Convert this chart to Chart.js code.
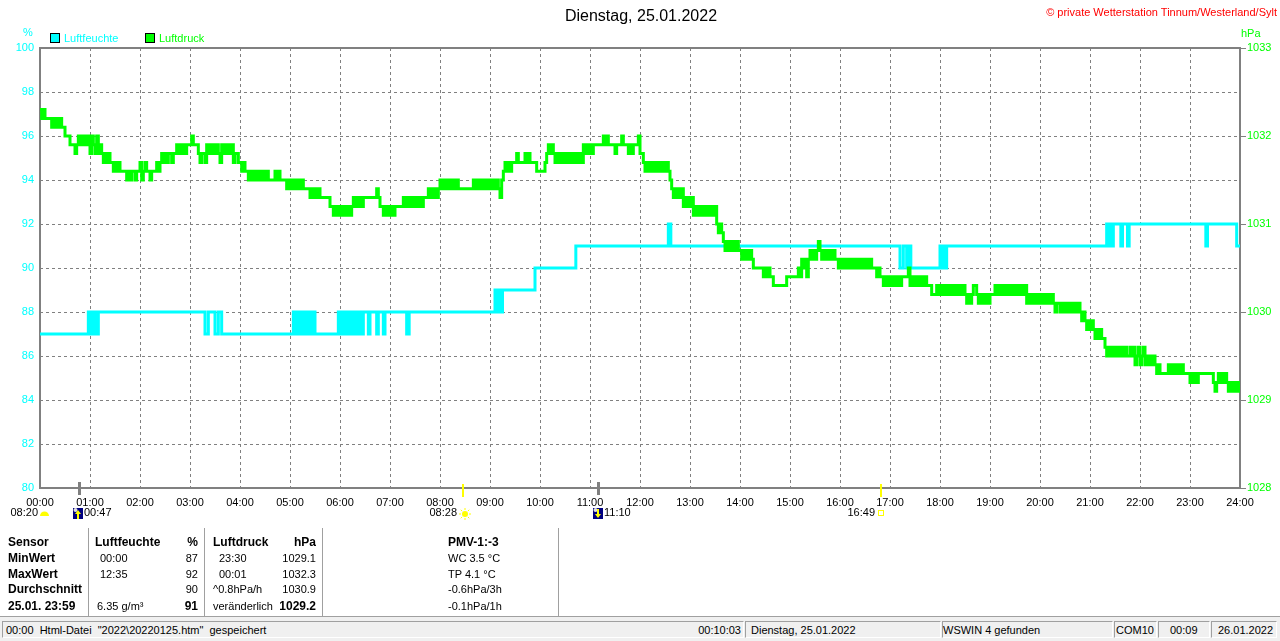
<!DOCTYPE html>
<html><head><meta charset="utf-8">
<script src="https://cdn.jsdelivr.net/npm/chart.js@4.4.1/dist/chart.umd.min.js"></script>
<style>
html,body{margin:0;padding:0;background:#fff;}
body{width:1280px;height:641px;overflow:hidden;position:relative;font-family:"Liberation Sans",Arial,sans-serif;font-size:11px;color:#000;}
#cv{position:absolute;left:0;top:0;}
.t{position:absolute;white-space:nowrap;line-height:14px;height:14px;}
.b{font-weight:bold;font-size:12px;}
.sep{position:absolute;top:528px;height:88px;width:1px;background:#a0a0a0;border-right:1px solid #fff;}
#status{position:absolute;left:0;top:616px;width:1280px;height:25px;background:#f0f0f0;border-top:1px solid #a0a0a0;}
.p{position:absolute;top:4px;height:17px;border-top:1px solid #a0a0a0;border-left:1px solid #a0a0a0;border-bottom:1px solid #fff;border-right:1px solid #fff;box-sizing:border-box;}
.st{position:absolute;top:7px;white-space:nowrap;line-height:13px;font-size:11px;}
.box{position:absolute;width:8px;height:8px;border:1px solid #000;}
</style>
</head><body>
<canvas id="cv" width="1280" height="530"></canvas>

<div class="t" style="left:0;width:1282px;text-align:center;top:7px;font-size:16px;line-height:18px;height:18px;">Dienstag, 25.01.2022</div>
<div class="t" style="right:3px;top:5px;color:#ff0000;">© private Wetterstation Tinnum/Westerland/Sylt</div>
<div class="t" style="left:23px;top:25px;color:#00ffff;">%</div>
<div class="t" style="left:1241px;top:26px;color:#00ff00;">hPa</div>
<div class="box" style="left:50px;top:33px;background:#00ffff;"></div>
<div class="t" style="left:64px;top:31px;color:#00ffff;">Luftfeuchte</div>
<div class="box" style="left:145px;top:33px;background:#00ff00;"></div>
<div class="t" style="left:159px;top:31px;color:#00ff00;">Luftdruck</div>

<!-- table -->
<div class="sep" style="left:88px;"></div>
<div class="sep" style="left:204px;"></div>
<div class="sep" style="left:322px;"></div>
<div class="sep" style="left:558px;"></div>

<div class="t b" style="left:8px;top:535px;">Sensor</div>
<div class="t b" style="left:8px;top:551px;">MinWert</div>
<div class="t b" style="left:8px;top:567px;">MaxWert</div>
<div class="t b" style="left:8px;top:582px;">Durchschnitt</div>
<div class="t b" style="left:8px;top:599px;">25.01. 23:59</div>

<div class="t b" style="left:95px;top:535px;">Luftfeuchte</div>
<div class="t b" style="right:1082px;top:535px;">%</div>
<div class="t" style="left:100px;top:551px;">00:00</div>
<div class="t" style="right:1082px;top:551px;">87</div>
<div class="t" style="left:100px;top:567px;">12:35</div>
<div class="t" style="right:1082px;top:567px;">92</div>
<div class="t" style="right:1082px;top:582px;">90</div>
<div class="t" style="left:97px;top:599px;">6.35 g/m³</div>
<div class="t b" style="right:1082px;top:599px;">91</div>

<div class="t b" style="left:213px;top:535px;">Luftdruck</div>
<div class="t b" style="right:964px;top:535px;">hPa</div>
<div class="t" style="left:219px;top:551px;">23:30</div>
<div class="t" style="right:964px;top:551px;">1029.1</div>
<div class="t" style="left:219px;top:567px;">00:01</div>
<div class="t" style="right:964px;top:567px;">1032.3</div>
<div class="t" style="left:213px;top:582px;">^0.8hPa/h</div>
<div class="t" style="right:964px;top:582px;">1030.9</div>
<div class="t" style="left:213px;top:599px;">veränderlich</div>
<div class="t b" style="right:964px;top:599px;">1029.2</div>

<div class="t b" style="left:448px;top:535px;">PMV-1:-3</div>
<div class="t" style="left:448px;top:551px;">WC 3.5 °C</div>
<div class="t" style="left:448px;top:567px;">TP 4.1 °C</div>
<div class="t" style="left:448px;top:582px;">-0.6hPa/3h</div>
<div class="t" style="left:448px;top:599px;">-0.1hPa/1h</div>

<div id="status">
  <div class="p" style="left:2px;width:742px;"></div>
  <div class="p" style="left:745px;width:196px;"></div>
  <div class="p" style="left:942px;width:171px;"></div>
  <div class="p" style="left:1114px;width:43px;"></div>
  <div class="p" style="left:1158px;width:52px;"></div>
  <div class="p" style="left:1211px;width:66px;"></div>
  <div class="st" style="left:6px;">00:00&nbsp; Html-Datei&nbsp; "2022\20220125.htm"&nbsp; gespeichert</div>
  <div class="st" style="right:539px;">00:10:03</div>
  <div class="st" style="left:751px;">Dienstag, 25.01.2022</div>
  <div class="st" style="left:943px;">WSWIN 4 gefunden</div>
  <div class="st" style="left:1116px;">COM10</div>
  <div class="st" style="left:1170px;">00:09</div>
  <div class="st" style="left:1218px;">26.01.2022</div>
</div>

<script>
// ---- data ----
const hourLabels = ['00:00','01:00','02:00','03:00','04:00','05:00','06:00','07:00','08:00','09:00','10:00','11:00','12:00',
  '13:00','14:00','15:00','16:00','17:00','18:00','19:00','20:00','21:00','22:00','23:00','24:00'];

// Luftdruck (hPa), one reading every 2 minutes from 00:00 to 24:00 (30 per hour row)
const pressureValues = [
1032.3,1032.2,1032.3,1032.2,1032.2,1032.2,1032.2,1032.1,1032.2,1032.1,1032.2,1032.1,1032.2,1032.1,1032.1,1032.0,1032.0,1032.0,1031.9,1031.9,1031.9,1031.8,1031.9,1032.0,1031.9,1032.0,1031.9,1032.0,1031.9,1032.0,
1031.8,1032.0,1031.9,1031.8,1032.0,1031.8,1031.9,1031.8,1031.7,1031.8,1031.7,1031.8,1031.7,1031.7,1031.6,1031.7,1031.6,1031.7,1031.6,1031.6,1031.6,1031.6,1031.5,1031.6,1031.5,1031.6,1031.6,1031.5,1031.6,1031.6,
1031.7,1031.5,1031.6,1031.7,1031.6,1031.6,1031.5,1031.6,1031.6,1031.6,1031.7,1031.6,1031.7,1031.8,1031.7,1031.8,1031.7,1031.8,1031.8,1031.7,1031.8,1031.8,1031.9,1031.8,1031.9,1031.8,1031.9,1031.8,1031.9,1031.9,
1031.9,1032.0,1031.9,1031.9,1031.9,1031.8,1031.7,1031.8,1031.8,1031.7,1031.9,1031.8,1031.9,1031.8,1031.9,1031.8,1031.9,1031.8,1031.7,1031.9,1031.8,1031.9,1031.8,1031.9,1031.8,1031.9,1031.7,1031.8,1031.8,1031.7,
1031.7,1031.6,1031.7,1031.6,1031.6,1031.5,1031.6,1031.5,1031.6,1031.5,1031.6,1031.5,1031.6,1031.5,1031.6,1031.5,1031.6,1031.5,1031.5,1031.5,1031.5,1031.6,1031.5,1031.6,1031.5,1031.5,1031.5,1031.5,1031.4,1031.5,
1031.4,1031.5,1031.4,1031.5,1031.4,1031.5,1031.4,1031.5,1031.4,1031.4,1031.4,1031.4,1031.3,1031.4,1031.3,1031.4,1031.3,1031.4,1031.3,1031.3,1031.3,1031.3,1031.3,1031.3,1031.2,1031.2,1031.1,1031.2,1031.1,1031.2,
1031.1,1031.2,1031.1,1031.2,1031.1,1031.2,1031.1,1031.2,1031.3,1031.2,1031.3,1031.2,1031.3,1031.2,1031.3,1031.3,1031.3,1031.3,1031.3,1031.3,1031.3,1031.3,1031.4,1031.3,1031.2,1031.2,1031.1,1031.2,1031.1,1031.2,
1031.1,1031.2,1031.1,1031.2,1031.2,1031.2,1031.2,1031.2,1031.3,1031.2,1031.3,1031.2,1031.3,1031.2,1031.3,1031.2,1031.3,1031.2,1031.3,1031.2,1031.3,1031.3,1031.3,1031.4,1031.3,1031.4,1031.3,1031.4,1031.3,1031.4,
1031.5,1031.4,1031.5,1031.4,1031.5,1031.4,1031.5,1031.4,1031.5,1031.4,1031.5,1031.4,1031.4,1031.4,1031.4,1031.4,1031.4,1031.4,1031.4,1031.4,1031.5,1031.4,1031.5,1031.4,1031.5,1031.4,1031.5,1031.4,1031.5,1031.4,
1031.5,1031.4,1031.5,1031.4,1031.5,1031.4,1031.3,1031.5,1031.6,1031.7,1031.6,1031.7,1031.6,1031.7,1031.7,1031.7,1031.8,1031.7,1031.7,1031.7,1031.7,1031.8,1031.7,1031.8,1031.7,1031.7,1031.7,1031.7,1031.6,1031.6,
1031.6,1031.6,1031.6,1031.7,1031.8,1031.9,1031.8,1031.9,1031.8,1031.7,1031.8,1031.7,1031.8,1031.7,1031.8,1031.7,1031.8,1031.7,1031.8,1031.7,1031.8,1031.7,1031.8,1031.7,1031.8,1031.7,1031.9,1031.8,1031.9,1031.8,
1031.9,1031.8,1031.9,1031.9,1031.9,1031.9,1031.9,1031.9,1032.0,1031.9,1032.0,1031.9,1031.9,1031.9,1031.9,1031.8,1031.9,1031.9,1031.9,1032.0,1031.9,1031.9,1031.9,1031.8,1031.9,1031.8,1031.9,1031.9,1031.9,1032.0,
1031.8,1031.8,1031.7,1031.6,1031.7,1031.6,1031.7,1031.6,1031.7,1031.6,1031.7,1031.6,1031.7,1031.6,1031.7,1031.6,1031.7,1031.6,1031.5,1031.4,1031.3,1031.4,1031.3,1031.4,1031.3,1031.4,1031.2,1031.3,1031.2,1031.3,
1031.2,1031.3,1031.1,1031.2,1031.1,1031.2,1031.1,1031.2,1031.1,1031.2,1031.1,1031.2,1031.1,1031.2,1031.1,1031.2,1031.0,1030.9,1031.0,1030.9,1030.8,1030.7,1030.8,1030.7,1030.8,1030.7,1030.8,1030.7,1030.8,1030.7,
1030.7,1030.6,1030.7,1030.6,1030.7,1030.6,1030.7,1030.6,1030.5,1030.5,1030.5,1030.5,1030.5,1030.5,1030.4,1030.5,1030.4,1030.5,1030.4,1030.4,1030.3,1030.3,1030.3,1030.3,1030.3,1030.3,1030.3,1030.3,1030.4,1030.4,
1030.4,1030.4,1030.4,1030.4,1030.4,1030.5,1030.4,1030.6,1030.5,1030.6,1030.4,1030.6,1030.7,1030.6,1030.7,1030.6,1030.7,1030.8,1030.7,1030.6,1030.7,1030.6,1030.7,1030.6,1030.7,1030.6,1030.7,1030.6,1030.6,1030.5,
1030.6,1030.5,1030.6,1030.5,1030.6,1030.5,1030.6,1030.5,1030.6,1030.5,1030.6,1030.5,1030.6,1030.5,1030.6,1030.5,1030.6,1030.5,1030.6,1030.5,1030.5,1030.5,1030.4,1030.5,1030.4,1030.4,1030.3,1030.4,1030.3,1030.4,
1030.3,1030.4,1030.3,1030.4,1030.3,1030.4,1030.3,1030.4,1030.4,1030.4,1030.4,1030.5,1030.3,1030.4,1030.3,1030.4,1030.3,1030.4,1030.3,1030.4,1030.3,1030.4,1030.3,1030.3,1030.3,1030.2,1030.2,1030.2,1030.3,1030.2,
1030.3,1030.2,1030.3,1030.2,1030.3,1030.2,1030.3,1030.2,1030.3,1030.2,1030.3,1030.2,1030.3,1030.2,1030.3,1030.2,1030.1,1030.2,1030.1,1030.2,1030.3,1030.3,1030.2,1030.1,1030.2,1030.1,1030.2,1030.1,1030.2,1030.1,
1030.2,1030.2,1030.2,1030.3,1030.2,1030.3,1030.2,1030.3,1030.2,1030.3,1030.2,1030.3,1030.2,1030.3,1030.2,1030.3,1030.2,1030.3,1030.2,1030.3,1030.2,1030.3,1030.1,1030.2,1030.1,1030.2,1030.1,1030.2,1030.1,1030.2,
1030.1,1030.2,1030.1,1030.2,1030.1,1030.2,1030.1,1030.2,1030.1,1030.0,1030.1,1030.1,1030.0,1030.1,1030.0,1030.1,1030.0,1030.1,1030.0,1030.1,1030.0,1030.1,1030.0,1030.1,1030.0,1029.9,1030.0,1029.9,1029.8,1029.9,
1029.8,1029.9,1029.8,1029.7,1029.8,1029.7,1029.8,1029.7,1029.7,1029.6,1029.5,1029.6,1029.5,1029.6,1029.5,1029.6,1029.5,1029.6,1029.5,1029.6,1029.5,1029.6,1029.5,1029.5,1029.6,1029.5,1029.6,1029.4,1029.5,1029.6,
1029.4,1029.5,1029.6,1029.4,1029.5,1029.4,1029.5,1029.4,1029.5,1029.4,1029.3,1029.4,1029.3,1029.3,1029.3,1029.3,1029.3,1029.4,1029.3,1029.4,1029.3,1029.4,1029.3,1029.4,1029.3,1029.4,1029.3,1029.3,1029.3,1029.3,
1029.2,1029.3,1029.2,1029.3,1029.2,1029.3,1029.3,1029.3,1029.3,1029.3,1029.3,1029.3,1029.3,1029.3,1029.2,1029.1,1029.2,1029.3,1029.2,1029.3,1029.2,1029.3,1029.2,1029.1,1029.2,1029.1,1029.2,1029.1,1029.2,1029.1,
1029.2
];
const pressureStepMinutes = 2;

// Luftfeuchte (%): minute of day at which a value starts, and the value
const humidityTimes = [0,58,60,62,64,66,68,70, 198,202,210,214,218,
  304,307,309,312,315,318,321,324,327,330,
  358,361,364,367,370,373,376,379,382,385,388,394,396,404,406,412,414,440,443,
  546,548,551,553,555,594,643,754,757,
  1032,1036,1040,1043,1045,1080,1082,1084,1086,1088,
  1280,1282,1284,1286,1288,1297,1299,1305,1307,1399,1401,1436,1440];
const humidityValues = [87,88,87,88,87,88,87,88, 87,88,87,88,87,
  88,87,88,87,88,87,88,87,88,87,
  88,87,88,87,88,87,88,87,88,87,88,87,88,87,88,87,88,87,88,
  89,88,89,88,89,90,91,92,91,
  90,91,90,91,90,91,90,91,90,91,
  92,91,92,91,92,91,92,91,92,91,92,91,91];

// Sun / moon events
const astroTimes = ['00:47','08:28','11:10','16:49'];
const astroKinds = ['moonrise','sunrise','moonset','sunset'];
const dayLength = '08:20';

// ---- helpers ----
const toMin = s => { const [h,m] = s.split(':').map(Number); return h*60+m; };
const pressureData = pressureValues.map((v,i)=>({x:i*pressureStepMinutes, y:v}));
const humidityData = humidityTimes.map((t,i)=>({x:t, y:humidityValues[i]}));

const FONT = {family:'"Liberation Sans", Arial, sans-serif', size:11};
const GRID = '#808080';

const framePlugin = {
  id:'frame',
  beforeDatasetsDraw(chart){
    const {ctx, chartArea:a} = chart;
    ctx.save();
    ctx.strokeStyle = GRID; ctx.lineWidth = 2;
    ctx.strokeRect(a.left, a.top, a.right-a.left, a.bottom-a.top);
    ctx.restore();
  }
};

const astroPlugin = {
  id:'astro',
  afterDraw(chart){
    const {ctx, scales:{x}} = chart;
    const cy = 513;
    ctx.save();
    ctx.font = '11px "Liberation Sans", Arial, sans-serif';
    ctx.textBaseline = 'middle';
    ctx.fillStyle = '#000'; ctx.textAlign = 'right';
    ctx.fillText(dayLength, 38, cy);
    ctx.fillStyle = '#ffff00';
    ctx.beginPath(); ctx.arc(44.5, cy+3, 4.5, Math.PI, 2*Math.PI); ctx.closePath(); ctx.fill();

    astroTimes.forEach((t,i)=>{
      const px = Math.round(x.getPixelForValue(toMin(t)));
      const kind = astroKinds[i];
      if (kind.startsWith('sun')) {
        ctx.fillStyle = '#ffff00';
        ctx.fillRect(px-1, 484, 2, 13);
        ctx.fillStyle = '#000'; ctx.textAlign = 'right';
        ctx.fillText(t, px-6, cy);
        if (kind === 'sunrise') {
          ctx.fillStyle = '#ffff00'; ctx.strokeStyle = '#ffff00'; ctx.lineWidth = 1;
          ctx.beginPath(); ctx.arc(px+2, cy+1, 3, 0, 2*Math.PI); ctx.fill();
          for (let k=0;k<8;k++){
            const an = k*Math.PI/4;
            ctx.beginPath();
            ctx.moveTo(px+2+Math.cos(an)*4, cy+1+Math.sin(an)*4);
            ctx.lineTo(px+2+Math.cos(an)*6, cy+1+Math.sin(an)*6);
            ctx.stroke();
          }
        } else {
          ctx.strokeStyle = '#ffff00'; ctx.lineWidth = 1;
          ctx.strokeRect(px-2.5, cy-2.5, 5, 5);
        }
      } else {
        ctx.fillStyle = '#808080';
        ctx.fillRect(px-1, 482, 3, 13);
        const ix = kind === 'moonrise' ? px-6 : px-5;
        ctx.fillStyle = '#000080';
        ctx.fillRect(ix, cy-5, 10, 11);
        ctx.fillStyle = '#e0e0e0';
        ctx.beginPath(); ctx.arc(ix+2.5, cy-3, 2, 0, 2*Math.PI); ctx.fill();
        ctx.fillStyle = '#ffff00';
        ctx.beginPath();
        if (kind === 'moonrise') {
          ctx.moveTo(ix+5, cy-3); ctx.lineTo(ix+8, cy+1); ctx.lineTo(ix+2, cy+1);
          ctx.fill(); ctx.fillRect(ix+4, cy, 2, 6);
        } else {
          ctx.moveTo(ix+5, cy+5); ctx.lineTo(ix+8, cy+1); ctx.lineTo(ix+2, cy+1);
          ctx.fill(); ctx.fillRect(ix+4, cy-4, 2, 6);
        }
        ctx.fillStyle = '#000'; ctx.textAlign = 'left';
        ctx.fillText(t, ix+11, cy);
      }
    });
    ctx.restore();
  }
};

new Chart(document.getElementById('cv'), {
  type:'line',
  data:{ datasets:[
    {label:'Luftdruck', data:pressureData, yAxisID:'y1', borderColor:'#00ff00', backgroundColor:'#00ff00',
     borderWidth:3, pointRadius:0, stepped:true, fill:false, borderJoinStyle:'miter'},
    {label:'Luftfeuchte', data:humidityData, yAxisID:'y', borderColor:'#00ffff', backgroundColor:'#00ffff',
     borderWidth:3, pointRadius:0, stepped:true, fill:false, borderJoinStyle:'miter'}
  ]},
  options:{
    responsive:false, animation:false, devicePixelRatio:1,
    layout:{padding:{top:48,left:0,right:0,bottom:0}},
    plugins:{legend:{display:false}, tooltip:{enabled:false}, title:{display:false}},
    events:[],
    scales:{
      x:{type:'linear', min:0, max:1440,
         ticks:{stepSize:60, autoSkip:false, maxRotation:0, color:'#000', font:FONT, padding:8,
                callback:v => hourLabels[v/60]},
         grid:{color:GRID, lineWidth:1, drawTicks:false},
         border:{display:false, dash:[3,3]},
         afterFit:s=>{ s.height = 42; }},
      y:{type:'linear', position:'left', min:80, max:100,
         ticks:{stepSize:2, color:'#00ffff', font:FONT, padding:6, callback:v=>String(v)},
         grid:{color:GRID, lineWidth:1, drawTicks:false},
         border:{display:false, dash:[3,3]},
         afterFit:s=>{ s.width = 40; }},
      y1:{type:'linear', position:'right', min:1028, max:1033,
         ticks:{stepSize:1, color:'#00ff00', font:FONT, padding:1, callback:v=>String(v)},
         grid:{drawOnChartArea:false, drawTicks:true, tickLength:6, color:GRID},
         border:{display:false},
         afterFit:s=>{ s.width = 40; }}
    }
  },
  plugins:[framePlugin, astroPlugin]
});
</script>
</body></html>
